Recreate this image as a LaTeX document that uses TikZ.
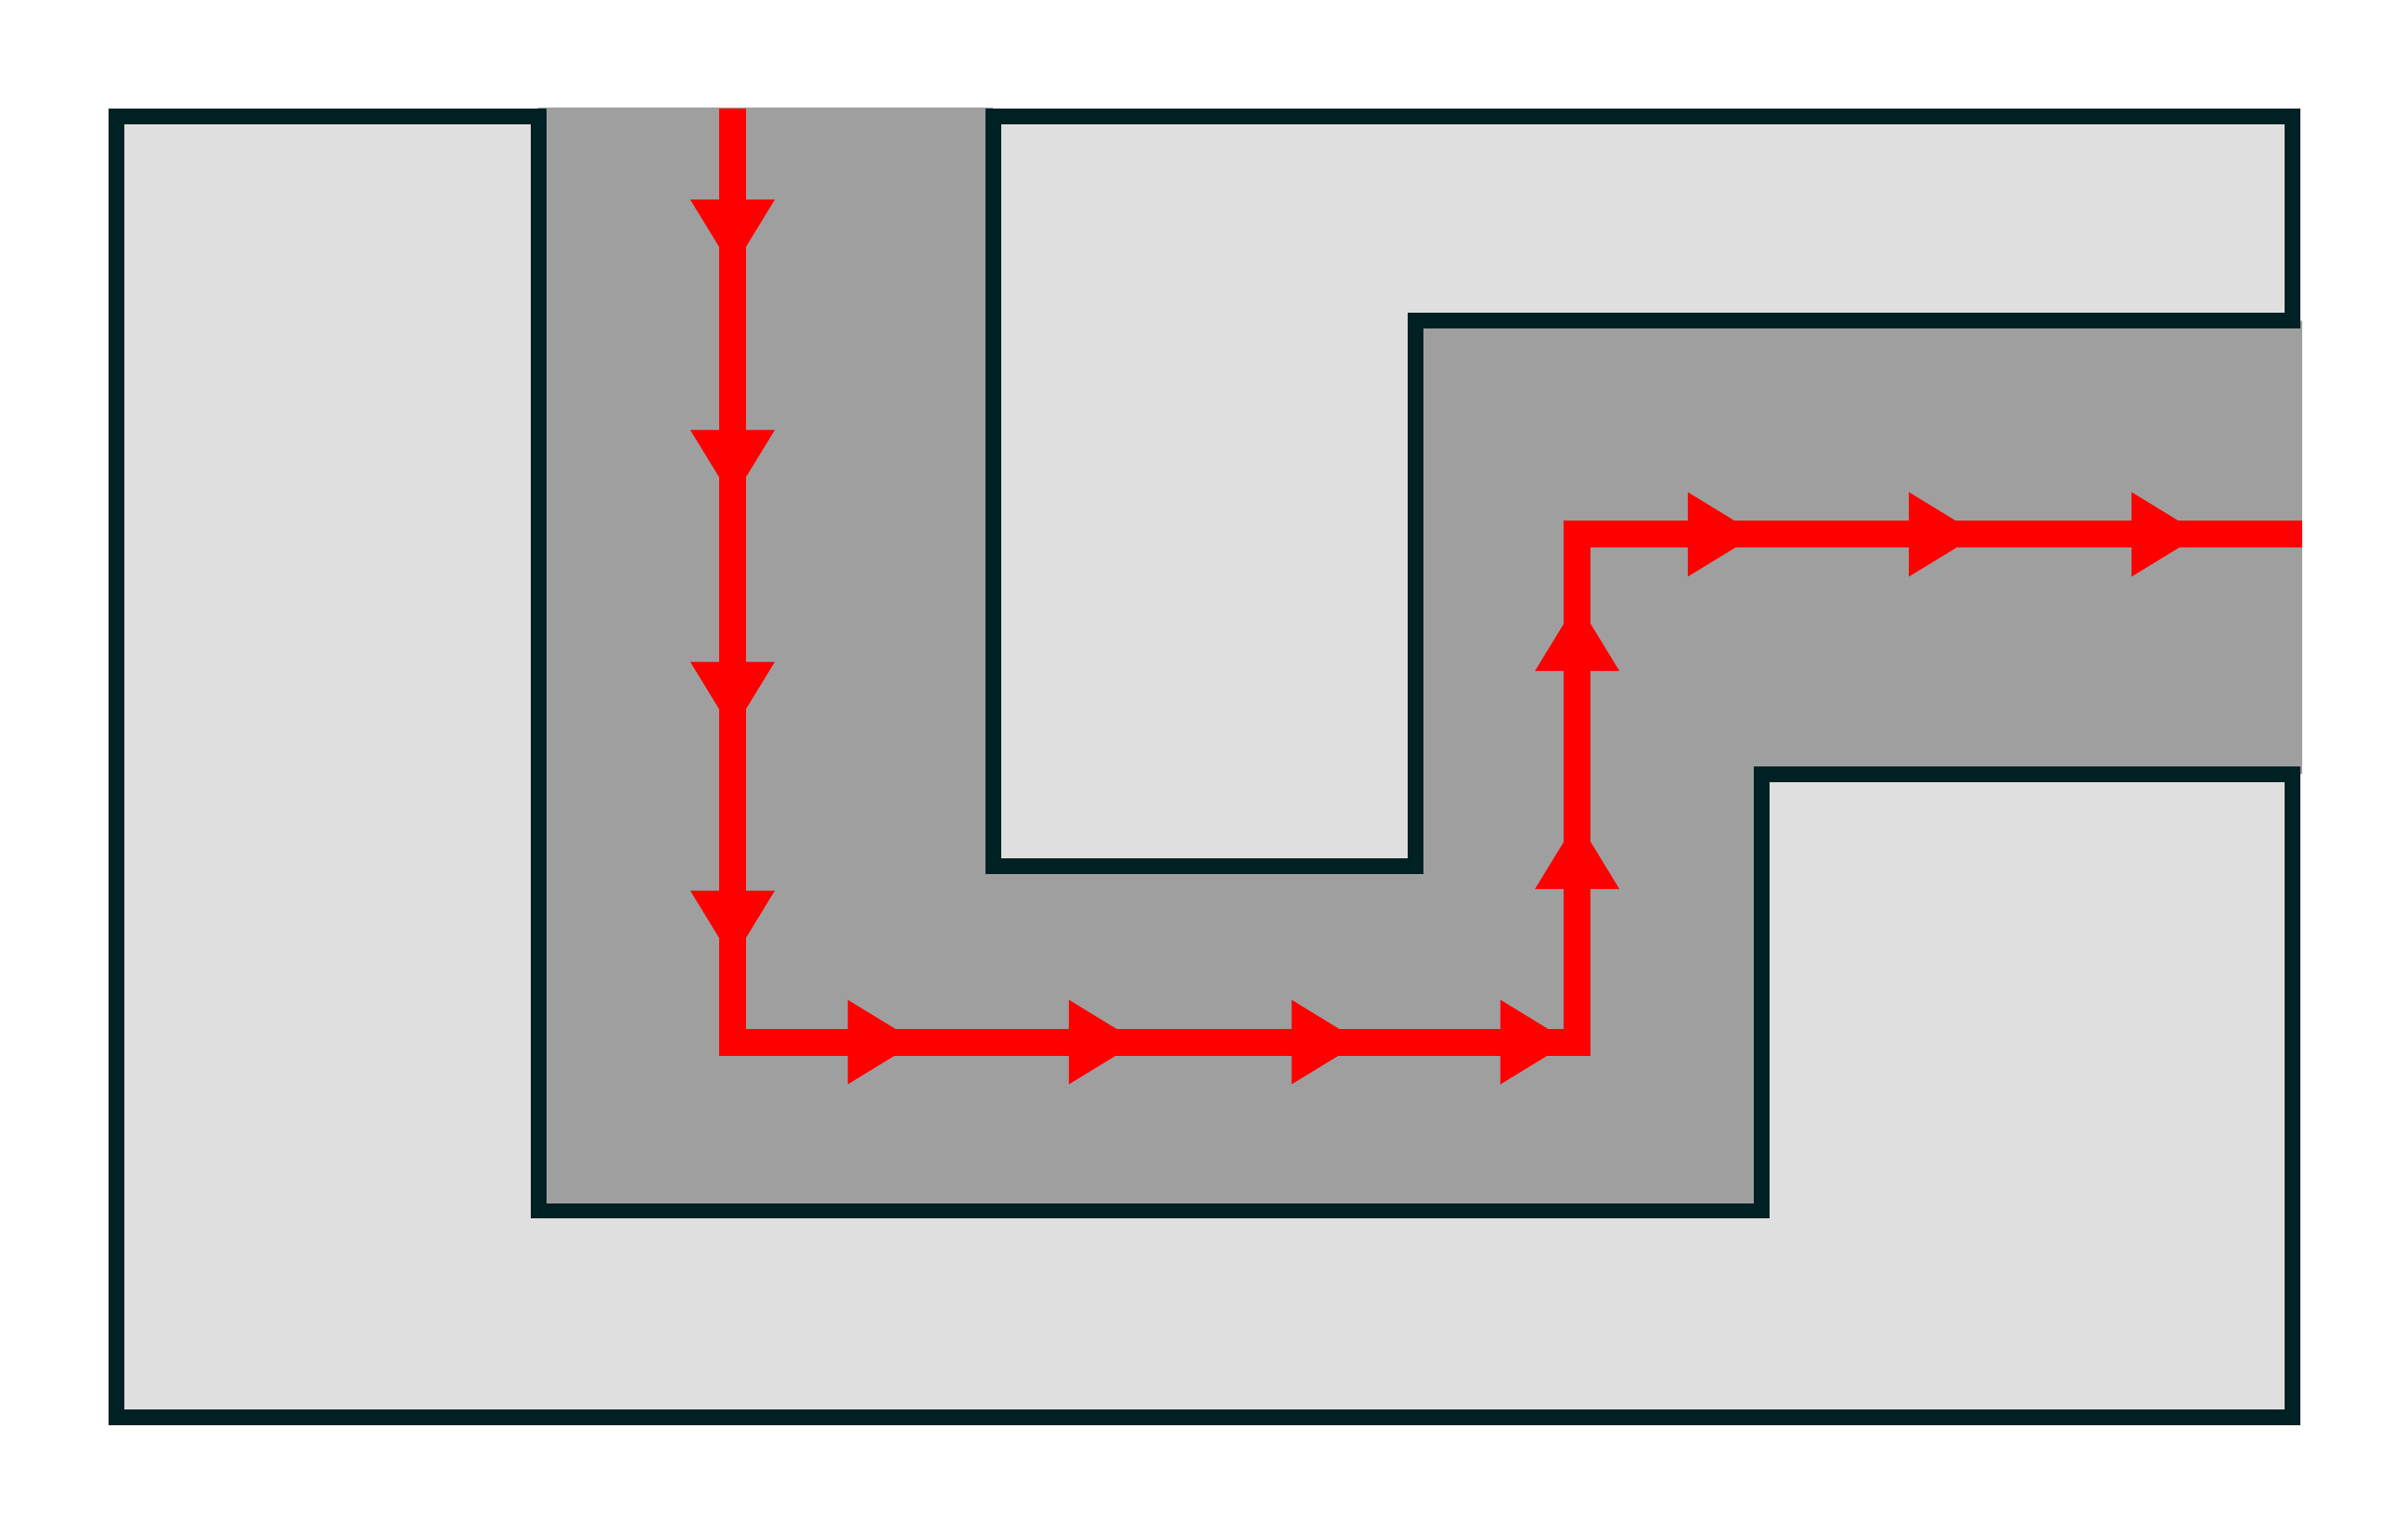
\documentclass[tikz,border=0pt]{standalone}
\definecolor{lightfill}{RGB}{223,223,223}
\definecolor{channel}{RGB}{159,159,159}
\definecolor{wall}{RGB}{0,33,35}
\definecolor{flow}{RGB}{255,0,0}
\tikzset{
  wallline/.style={draw=wall, line width=2.9pt, line join=miter, fill=lightfill},
  flowline/.style={draw=flow, line width=5pt, line join=miter},
  flowhead/.style={fill=flow}
}
\newcommand\flowtip[3]{\fill[flowhead, shift={(#1,#2)}, rotate=#3] (0,0) -- (-45,27.5) -- (-45,-27.5) -- cycle;}
\begin{document}
\begin{tikzpicture}[x=0.01cm, y=-0.01cm]
\useasboundingbox (0,0) rectangle (1568,997);
\fill[white] (0,0) rectangle (1568,997);
% channel
\fill[channel] (350.6,70) -- (646.6,70) -- (646.6,564) -- (922,564) -- (922,208.8)
  -- (1499,208.8) -- (1499,504) -- (1147,504) -- (1147,788.5) -- (350.6,788.5) -- cycle;
% walls
\draw[wallline] (350.6,76) -- (75.8,76) -- (75.8,923) -- (1493,923) -- (1493,504)
  -- (1147,504) -- (1147,788.5) -- (350.6,788.5) -- cycle;
\draw[wallline] (646.6,76) -- (1493,76) -- (1493,208.8) -- (922,208.8) -- (922,564)
  -- (646.6,564) -- cycle;
% flow path
\coordinate (s) at (477,70.8);
\coordinate (c1) at (477,678.6);
\coordinate (c2) at (1027,678.6);
\coordinate (c3) at (1027,348);
\coordinate (e) at (1499,348);
\draw[flowline] (s) -- (c1) -- (c2) -- (c3) -- (e);
% arrow heads
\flowtip{477}{175}{-90}
\flowtip{477}{325}{-90}
\flowtip{477}{476}{-90}
\flowtip{477}{625}{-90}
\flowtip{597}{678.6}{0}
\flowtip{741}{678.6}{0}
\flowtip{886}{678.6}{0}
\flowtip{1022}{678.6}{0}
\flowtip{1027}{534}{90}
\flowtip{1027}{392}{90}
\flowtip{1144}{348}{0}
\flowtip{1288}{348}{0}
\flowtip{1433}{348}{0}
\end{tikzpicture}
\end{document}
